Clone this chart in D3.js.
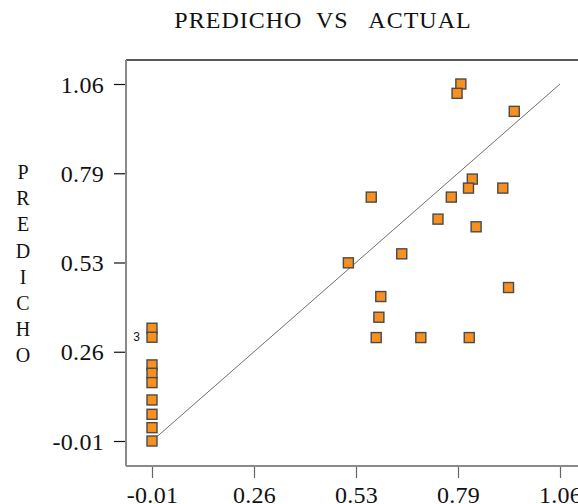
<!DOCTYPE html>
<html>
<head>
<meta charset="utf-8">
<script src="https://cdn.jsdelivr.net/npm/d3@7"></script>
<style>
  html, body { margin: 0; padding: 0; background: #fff; }
  svg { display: block; }
</style>
</head>
<body>
<div id="chart"></div>
<script>
// Predicho vs Actual - scatter with identity line

const W = 578, H = 504;

// --- DATA ---
const actual   = [-0.01, -0.01, -0.01, -0.01, -0.01, -0.01, -0.01, -0.01, -0.01,
                  0.80, 0.79, 0.94, 0.83, 0.82, 0.91, 0.775, 0.565, 0.74, 0.84,
                  0.645, 0.505, 0.925, 0.59, 0.585, 0.578, 0.695, 0.822];
const predicho = [0.328, 0.301, 0.218, 0.193, 0.165, 0.113, 0.070, 0.030, -0.01,
                  1.06, 1.032, 0.978, 0.775, 0.748, 0.748, 0.721, 0.721, 0.655, 0.632,
                  0.551, 0.524, 0.450, 0.423, 0.361, 0.300, 0.300, 0.300];
// overlapped points annotated with their count
const countLabels = [{ x: -0.01, y: 0.301, n: "3" }];

const tickValues = [-0.01, 0.2575, 0.525, 0.7925, 1.06];
const tickLabels = ["-0.01", "0.26", "0.53", "0.79", "1.06"];
const identity = [-0.01, 1.06];

// --- LAYOUT ---
const frame = { left: 126, top: 60, bottom: 466, right: W + 2 };
const serif = "'Liberation Serif', 'Times New Roman', serif";

const x = d3.scaleLinear().domain([-0.01, 1.06]).range([152, 560]);
const y = d3.scaleLinear().domain([-0.01, 1.06]).range([441, 84]);

const svg = d3.select("#chart").append("svg")
    .attr("width", W).attr("height", H)
    .style("font-family", serif);

// title
svg.append("text")
    .attr("x", 323).attr("y", 28)
    .attr("text-anchor", "middle")
    .attr("font-size", 24).attr("fill", "#111")
    .attr("letter-spacing", 1)
    .style("white-space", "pre")
    .text("PREDICHO  VS   ACTUAL");

// vertical y label
const yLetters = "PREDICHO".split("");
svg.append("g").selectAll("text")
    .data(yLetters).join("text")
    .attr("x", 23)
    .attr("y", (d, i) => 179 + i * 26.2)
    .attr("text-anchor", "middle")
    .attr("font-size", 20).attr("fill", "#111")
    .text(d => d);

// frame: top line dark, left/bottom axis lines grey
svg.append("line")
    .attr("x1", frame.left).attr("x2", frame.right)
    .attr("y1", frame.top).attr("y2", frame.top)
    .attr("stroke", "#222").attr("stroke-width", 1.5);

// --- AXES ---
const yAxis = d3.axisLeft(y)
    .tickValues(tickValues)
    .tickFormat((d, i) => tickLabels[i])
    .tickSize(12).tickPadding(10);

const gy = svg.append("g")
    .attr("transform", `translate(${frame.left},0)`)
    .call(yAxis);
gy.select(".domain").remove();
gy.selectAll(".tick line").attr("stroke", "#111").attr("stroke-width", 1.2);
gy.selectAll(".tick text")
    .attr("font-family", serif)
    .attr("font-size", 24).attr("letter-spacing", 0.3)
    .attr("fill", "#111").attr("dy", "0.34em");

const xAxis = d3.axisBottom(x)
    .tickValues(tickValues)
    .tickFormat((d, i) => tickLabels[i])
    .tickSize(12).tickPadding(8);

const gx = svg.append("g")
    .attr("transform", `translate(0,${frame.bottom})`)
    .call(xAxis);
gx.select(".domain").remove();
gx.selectAll(".tick line").attr("stroke", "#666").attr("stroke-width", 1.2);
gx.selectAll(".tick text")
    .attr("font-family", serif)
    .attr("font-size", 24).attr("letter-spacing", 0.3)
    .attr("fill", "#111");

svg.append("line")
    .attr("x1", frame.left).attr("x2", frame.left)
    .attr("y1", frame.top).attr("y2", frame.bottom)
    .attr("stroke", "#8a8a8a").attr("stroke-width", 2);
svg.append("line")
    .attr("x1", frame.left).attr("x2", frame.right)
    .attr("y1", frame.bottom).attr("y2", frame.bottom)
    .attr("stroke", "#8a8a8a").attr("stroke-width", 2);

// identity line
svg.append("line")
    .attr("x1", x(identity[0])).attr("y1", y(identity[0]))
    .attr("x2", x(identity[1])).attr("y2", y(identity[1]))
    .attr("stroke", "#6f6f6f").attr("stroke-width", 1);

// --- POINTS ---
const pts = actual.map((a, i) => ({ a, p: predicho[i] }));
const s = 10;
svg.append("g").selectAll("rect")
    .data(pts).join("rect")
    .attr("x", d => x(d.a) - s / 2)
    .attr("y", d => y(d.p) - s / 2)
    .attr("width", s).attr("height", s)
    .attr("fill", "#F7901E")
    .attr("stroke", "#4a4a4a").attr("stroke-width", 1.4);

svg.append("g").selectAll("text")
    .data(countLabels).join("text")
    .attr("x", d => x(d.x) - 12)
    .attr("y", d => y(d.y) + 4)
    .attr("text-anchor", "end")
    .attr("font-family", "'Liberation Sans', Arial, sans-serif")
    .attr("font-size", 12).attr("fill", "#111")
    .text(d => d.n);
</script>
</body>
</html>
